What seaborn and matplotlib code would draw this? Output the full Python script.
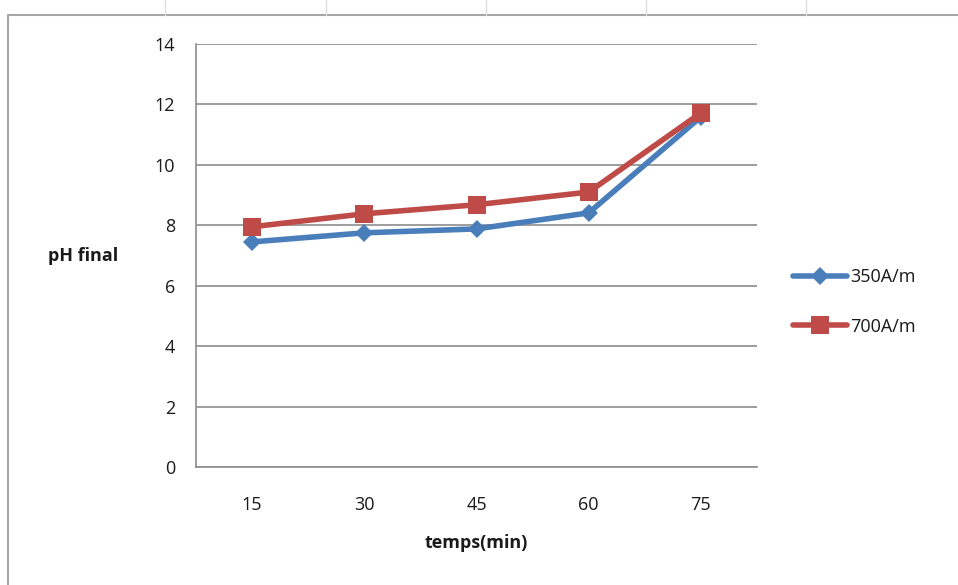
import matplotlib
matplotlib.use("Agg")
import matplotlib.pyplot as plt
from matplotlib.lines import Line2D
import seaborn as sns
import pandas as pd

times = ["15", "30", "45", "60", "75"]
ph_350 = [7.45, 7.75, 7.88, 8.41, 11.59]
ph_700 = [7.95, 8.38, 8.68, 9.10, 11.72]
series_names = ["350A/m", "700A/m"]

df = pd.DataFrame({
    "temps": times * 2,
    "pH": ph_350 + ph_700,
    "serie": [series_names[0]] * len(times) + [series_names[1]] * len(times),
})

sns.set_style("white")
plt.rcParams["font.family"] = ["Open Sans", "DejaVu Sans"]

W, H = 958, 585
fig = plt.figure(figsize=(W / 100, H / 100), dpi=100)
ax = fig.add_axes([196 / W, 1 - 467 / H, 561 / W, 423 / H])

palette = {series_names[0]: "#4a7ebb", series_names[1]: "#be4b48"}
markers = {series_names[0]: "D", series_names[1]: "s"}
sizes = {series_names[0]: 9.5, series_names[1]: 13.5}

for name in series_names:
    sub = df[df["serie"] == name]
    sns.lineplot(data=sub, x="temps", y="pH", ax=ax, color=palette[name],
                 marker=markers[name], markersize=sizes[name], linewidth=4,
                 markeredgewidth=0, label=name, sort=False)

ax.set_xlim(-0.5, len(times) - 0.5)
ax.set_ylim(0, 14)
ax.set_yticks(range(0, 15, 2))
ax.grid(axis="y", color="#8c8c8c", linewidth=1.2)
ax.set_axisbelow(True)
for s in ["top", "right"]:
    ax.spines[s].set_visible(False)
for s in ["left", "bottom"]:
    ax.spines[s].set_color("#8c8c8c")
    ax.spines[s].set_linewidth(1.2)

txt_col = "#1a1a1a"
ax.set_xticks(range(len(times)))
ax.set_xticklabels(times)
ax.set_xticks([i - 0.5 for i in range(len(times) + 1)], minor=True)
ax.tick_params(axis="x", which="major", length=0, pad=21, labelsize=13, colors=txt_col)
ax.tick_params(axis="x", which="minor", length=6, width=1.2, color="#8c8c8c", direction="out")
ax.tick_params(axis="y", length=6, width=1.2, color="#8c8c8c", direction="out",
               labelsize=13, labelcolor=txt_col, pad=9)

ax.set_xlabel("temps(min)", fontsize=13, fontweight="bold", color=txt_col, labelpad=14)
ax.set_ylabel("pH final", fontsize=13, fontweight="bold", color=txt_col,
              rotation=0, ha="left", va="center")
ax.yaxis.set_label_coords((48 - 196) / 561, (467 - 256) / 423)

leg = ax.legend(loc="center left", bbox_to_anchor=((793 - 196) / 561, (467 - 302) / 423),
                frameon=False, fontsize=13, handlelength=3, handletextpad=0.15,
                labelspacing=1.75, borderaxespad=0, borderpad=0)
for t in leg.get_texts():
    t.set_color(txt_col)

# Worksheet frame around the chart
line_col = "#a6a6a6"
fig.add_artist(Line2D([8 / W, 1], [1 - 15 / H, 1 - 15 / H], color=line_col, linewidth=1.5))
fig.add_artist(Line2D([8 / W, 8 / W], [0, 1 - 15 / H], color=line_col, linewidth=1.5))
for xp in [165, 326, 486, 646, 806]:
    fig.add_artist(Line2D([xp / W, xp / W], [1 - 15 / H, 1], color="#dddddd", linewidth=1))

fig.savefig("out.png", dpi=100)
